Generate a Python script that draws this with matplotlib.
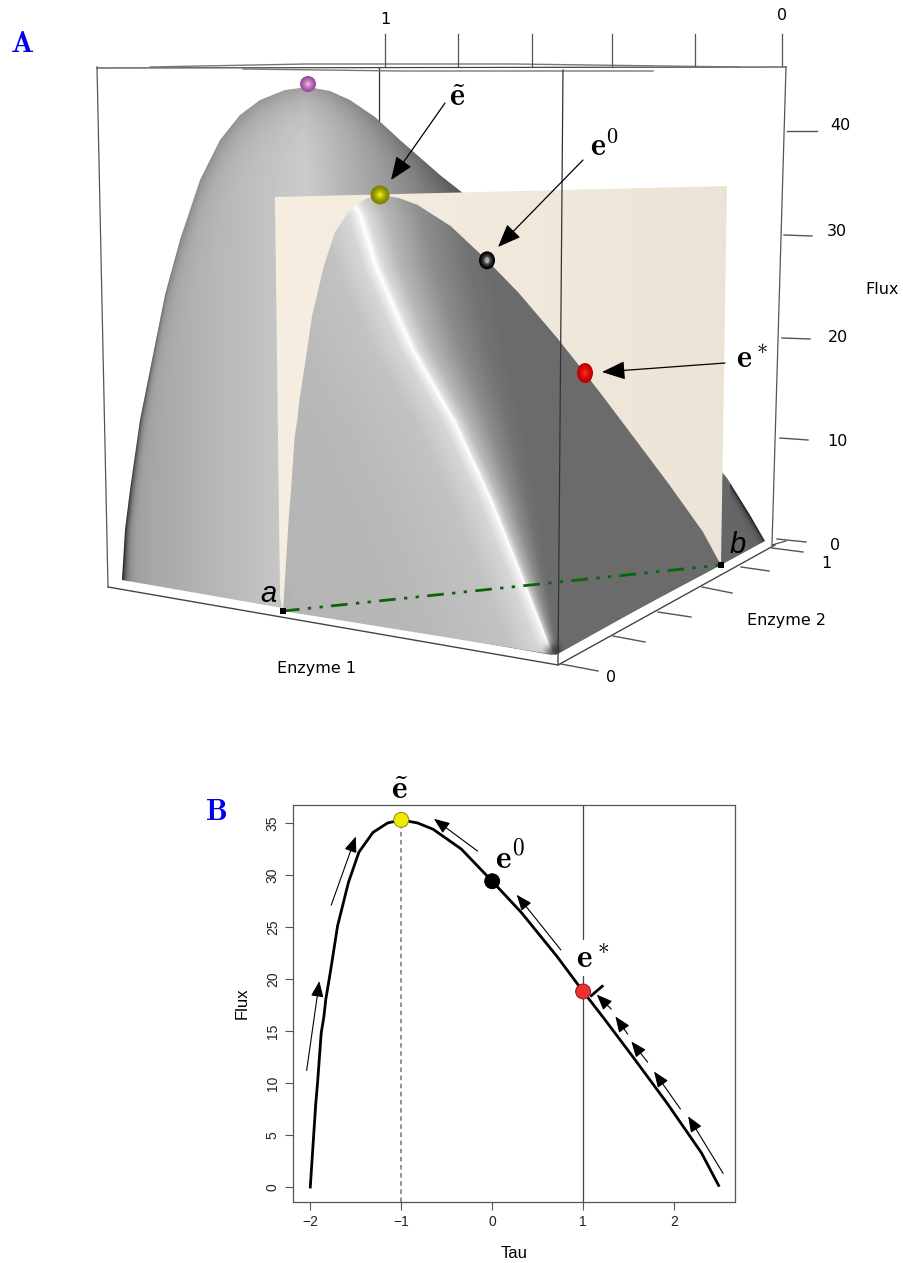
import numpy as np
import matplotlib
matplotlib.use("Agg")
import matplotlib.pyplot as plt
from matplotlib.patches import Polygon, Ellipse

plt.rcParams['mathtext.fontset'] = 'cm'
plt.rcParams['font.family'] = ['DejaVu Sans']

# ---- values -----------------------------------------------------------
tau = [-2, -1.97, -1.94, -1.92, -1.88, -1.85, -1.83, -1.775, -1.70, -1.58, -1.465, -1.31,
       -1.15, -1, -0.82, -0.65, -0.34, 0, 0.32, 0.71, 1, 1.23, 1.54, 1.92, 2.3, 2.49]
flux = [0, 4, 8, 10, 14.8, 16.4, 18, 20.9, 25.1, 29.3, 32.2, 34.1,
        35.0, 35.3, 35.0, 34.4, 32.5, 29.4, 26.4, 22.2, 18.8, 16.2, 12.6, 8.1, 3.3, 0.15]
points_tau = [-1, 0, 1]
points_flux = [35.3, 29.4, 18.8]
points_color = ['#eeea00', '#000000', '#f03030']
points_edge = ['#8a8a00', '#000000', '#8a1a1a']
arrows_b = [(-2.04, 11.2, -1.90, 19.8), (-1.77, 27.1, -1.50, 33.7), (-0.16, 32.3, -0.64, 35.4),
            (0.755, 22.8, 0.27, 28.1), (2.54, 1.3, 2.155, 6.8), (2.07, 7.5, 1.78, 11.1),
            (1.71, 12.0, 1.53, 14.0), (1.49, 14.7, 1.355, 16.4), (1.31, 17.1, 1.15, 18.5)]
bar_tau, bar_flux = [1.09, 1.21], [18.4, 19.3]

# Panel A: projected scene (image pixels)
a_px, b_px = (283, 611), (721, 565)
section_tau = [-2, -1, 0, 1, 2.5]
section_frac = [0, 0.2215, 0.4658, 0.6895, 1]
section_scale = [11.7, 11.5, 11.2, 10.97, 10.6]
back_x = [122, 125, 130, 140, 150, 165, 180, 200, 220, 240, 260, 285, 308, 330, 350, 375, 400, 440, 478,
          600, 727, 750, 765]
back_y = [580, 530, 490, 420, 370, 295, 240, 180, 140, 115, 100, 90, 87, 91, 100, 117, 140, 175, 205,
          330, 478, 515, 541]
ridge_x = [345, 360, 376, 405, 413, 455, 491, 522, 548, 556]
ridge_y = [190, 215, 267, 333, 350, 423, 500, 577, 643, 660]
curtain_x = [275, 727, 721, 283, 280]
curtain_y = [197, 186, 565, 611, 597]
top_ticks_x = [385, 458, 532, 612, 695, 782]
flux_ticks = [(787, 131, 817, 131, '40', 840, 125), (784, 235, 812, 236, '30', 837, 231),
              (782, 338, 810, 339, '20', 838, 337), (780, 438, 808, 440, '10', 837, 442),
              (777, 539, 806, 542, '0', 835, 545)]
e2_ticks = [(772, 548, 803, 552), (741, 567, 769, 571), (702, 587, 732, 593),
            (658, 612, 691, 617), (613, 636, 645, 642), (561, 664, 598, 671)]
arrows_a = [(445, 103, 391, 180), (583, 160, 498, 247), (725, 363, 602, 372)]

fig = plt.figure(figsize=(9.04, 12.63), dpi=100)
fig.patch.set_facecolor('white')
ax = fig.add_axes([0, 0, 1, 1])
ax.set_xlim(0, 904)
ax.set_ylim(1263, 0)
ax.axis('off')


def section(t, f):
    frac = np.interp(t, section_tau, section_frac)
    x = a_px[0] + (b_px[0] - a_px[0]) * frac
    y0 = a_px[1] + (b_px[1] - a_px[1]) * frac
    return x, y0 - np.interp(t, section_tau, section_scale) * np.asarray(f)


yy, xx = np.mgrid[0:700, 0:904]
xx = xx + 0.5
yy = yy + 0.5


def shaded(arr, xs, ys, z):
    poly = Polygon(np.column_stack([xs, ys]), closed=True, fc='none', ec='none', transform=ax.transData)
    ax.add_patch(poly)
    im = ax.imshow(arr, extent=(0, 904, 700, 0), cmap='gray', vmin=0, vmax=1, zorder=z,
                   interpolation='bilinear', aspect='auto')
    im.set_clip_path(poly)
    return im


# box back lines
ax.plot([379, 379], [68, 200], color='#333333', lw=0.9, zorder=1)
ax.plot([97, 108], [67, 587], color='#555555', lw=0.9, zorder=1)
ax.plot([786, 772], [67, 545], color='#555555', lw=0.9, zorder=1)
ax.plot([97, 786], [68, 67], color='#444444', lw=0.9, zorder=1)
ax.plot([150, 306, 514, 740], [67, 64, 64, 67], color='#777777', lw=1.0, zorder=1)
ax.plot([243, 400, 653], [69, 71, 71], color='#777777', lw=1.0, zorder=1)

# back surface
bx = back_x + [721, 552]
by = back_y + [565, 655]
sb = np.interp(xx, [120, 200, 305, 400, 480, 700], [0.62, 0.70, 0.80, 0.58, 0.38, 0.40])
top_y = np.interp(xx, back_x[:19], back_y[:19])
sb = sb * (1 - 0.22 * np.exp(-np.clip(yy - top_y, 0, None) / 22))
left_x = np.interp(yy, back_y[12::-1], back_x[12::-1])
sb = sb * (1 - 0.85 * np.exp(-np.clip(xx - left_x, 0, None) / (1.0 + 3.0 * np.clip(yy - 300, 0, 280) / 280)) * np.clip((yy - 200) / 380, 0, 1))
sb = np.where((xx > 730), sb * (1 - 0.7 * np.exp(-np.clip(np.interp(yy, [478, 541], [727, 765]) - xx, 0, None) / 3)), sb)
shaded(sb, bx, by, 2)

# curtain
sc = np.interp(xx, [275, 727], [0.95, 0.91])
cur_rgb = np.dstack([sc + 0.015, sc - 0.015, sc - 0.07])
poly = Polygon(np.column_stack([curtain_x, curtain_y]), closed=True, fc='none', ec='none')
ax.add_patch(poly)
im = ax.imshow(np.clip(cur_rgb, 0, 1), extent=(0, 904, 700, 0), zorder=3, aspect='auto', interpolation='bilinear')
im.set_clip_path(poly)

# front surface
sx, sy = section(np.array(tau), flux)
fx = list(sx) + [556]
fy = list(sy) + [655]
r = np.interp(yy, ridge_y, ridge_x)
u = xx - r
width = np.clip(0.62 * (563 - r), 8, None)
v = u / width
fs = np.where(u >= 0,
              np.interp(v, [0, 0.06, 0.2, 0.5, 0.8, 1.0, 9], [1.0, 0.86, 0.72, 0.55, 0.45, 0.42, 0.42]),
              np.interp(u, [-300, -120, -40, -12, -3, 0], [0.70, 0.72, 0.76, 0.84, 0.94, 1.0]))
near_tip = np.exp(-((xx - 553) ** 2 + (yy - 652) ** 2) / 60)
fs = fs * (1 - 0.6 * near_tip)
shaded(fs, fx, fy, 4)

# front vertical edge and floor
ax.plot([563, 558], [70, 665], color='#333333', lw=0.9, zorder=5)
ax.plot([108, 558, 775], [587, 665, 545], color='#444444', lw=1.0, zorder=5)
ax.plot([772, 786], [545, 541], color='#444444', lw=0.8, zorder=5)
ax.plot([a_px[0], b_px[0]], [a_px[1], b_px[1]], color='#0a640a', lw=2.0,
        ls=(0, (6, 3, 1.2, 3, 1.2, 3)), zorder=6)
for p in (a_px, b_px):
    ax.add_patch(Polygon([(p[0] - 3, p[1] - 3), (p[0] + 3, p[1] - 3), (p[0] + 3, p[1] + 3), (p[0] - 3, p[1] + 3)],
                         fc='black', ec='none', zorder=7))
ax.text(268, 594, 'a', style='italic', fontsize=21, ha='center', va='center', family='Liberation Sans', zorder=8)
ax.text(738, 545, 'b', style='italic', fontsize=21, ha='center', va='center', family='Liberation Sans', zorder=8)


def ball(x, y, rx, ry, dark, light, z=7):
    dark, light = np.array(matplotlib.colors.to_rgb(dark)), np.array(matplotlib.colors.to_rgb(light))
    for k in np.linspace(0, 1, 14):
        ax.add_patch(Ellipse((x, y - 0.1 * k), 2 * rx * (1 - k), 2 * ry * (1 - k),
                             fc=dark * (1 - k ** 1.5) + light * k ** 1.5, ec='none', zorder=z))


ball(308, 84, 8, 8, '#a04a9a', '#fbd0f5')
pxs, pys = section(np.array(points_tau), points_flux)
ball(pxs[0], pys[0], 9.5, 9.5, '#808000', '#ffff20')
ball(pxs[1], pys[1], 8, 9, '#000000', '#c8c8c8')
ball(pxs[2], pys[2], 8, 10, '#c00000', '#ff3030')
ax.add_patch(Ellipse((pxs[1], pys[1]), 4, 6, fc='#aaaaaa', ec='none', zorder=8))

for x0, y0, x1, y1 in arrows_a:
    ax.annotate('', xy=(x1, y1), xytext=(x0, y0), zorder=9,
                arrowprops=dict(arrowstyle='-|>,head_length=0.6,head_width=0.24', mutation_scale=24,
                                lw=0.9, color='black', shrinkA=0, shrinkB=0))
ax.text(457, 98, r'$\mathbf{\tilde{e}}$', fontsize=23, ha='center', va='center', zorder=9)
ax.text(604, 147, r'$\mathbf{e^0}$', fontsize=23, ha='center', va='center', zorder=9)
ax.text(752, 360, r'$\mathbf{e^*}$', fontsize=23, ha='center', va='center', zorder=9)

# box ticks
for x in top_ticks_x:
    ax.plot([x, x], [66, 34], color='#555555', lw=0.9, zorder=1)
ax.text(385, 20, '1', fontsize=11.5, ha='center', va='center')
ax.text(782, 15, '0', fontsize=11.5, ha='center', va='center')
for x0, y0, x1, y1, s, lx, ly in flux_ticks:
    ax.plot([x0, x1], [y0, y1], color='#555555', lw=1.0)
    ax.text(lx, ly, s, fontsize=11.5, ha='center', va='center')
for x0, y0, x1, y1 in e2_ticks:
    ax.plot([x0, x1], [y0, y1], color='#555555', lw=1.0)
ax.text(826, 563, '1', fontsize=11.5, ha='center', va='center')
ax.text(611, 677, '0', fontsize=11.5, ha='center', va='center')
ax.text(882, 289, 'Flux', fontsize=11.5, ha='center', va='center')
ax.text(787, 620, 'Enzyme 2', fontsize=11.5, ha='center', va='center')
ax.text(317, 669, 'Enzyme 1', fontsize=11.5, ha='center', va='center')
ax.text(22, 44, r'$\mathbf{A}$', color='#0000ee', fontsize=22, ha='center', va='center')
ax.text(216, 811, r'$\mathbf{B}$', color='#0000ee', fontsize=22, ha='center', va='center')

# ---- Panel B ----------------------------------------------------------
W, H = 904.0, 1263.0
axb = fig.add_axes([293 / W, 1 - 1202 / H, (735 - 293) / W, (1202 - 805) / H])
axb.set_facecolor('none')
axb.set_xlim(-2.19, 2.67)
axb.set_ylim(-1.44, 36.73)
for s in axb.spines.values():
    s.set_color('#555555')
    s.set_linewidth(0.9)
axb.axvline(1, color='#444444', lw=0.9, zorder=1)
axb.plot([-1, -1], [-1.44, 35.3], color='#888888', lw=1.3, ls=(0, (2.5, 2)), zorder=1)
axb.plot(tau, flux, color='black', lw=2.0, zorder=3, solid_joinstyle='round')
axb.plot(bar_tau, bar_flux, color='black', lw=2.0, zorder=3)
for x0, y0, x1, y1 in arrows_b:
    axb.annotate('', xy=(x1, y1), xytext=(x0, y0),
                 arrowprops=dict(arrowstyle='-|>,head_length=0.6,head_width=0.24', mutation_scale=16,
                                 lw=0.8, color='black', shrinkA=0, shrinkB=0))
axb.text(1.1, 22, r'$\mathbf{e^*}$', fontsize=24, ha='center', va='center', zorder=2,
         bbox=dict(fc='white', ec='none', pad=1))
axb.text(0.19, 31.6, r'$\mathbf{e^0}$', fontsize=24, ha='center', va='center', zorder=2)
axb.text(-1.02, 38.2, r'$\mathbf{\tilde{e}}$', fontsize=24, ha='center', va='center', zorder=2,
         bbox=dict(fc='white', ec='none', pad=1), clip_on=False)
axb.scatter(points_tau, points_flux, s=115, c=points_color, edgecolors=points_edge, linewidths=0.7, zorder=5)
axb.set_xticks([-2, -1, 0, 1, 2])
axb.set_yticks([0, 5, 10, 15, 20, 25, 30, 35])
axb.tick_params(length=6, width=0.8, color='#555555', labelsize=10, labelcolor='#222222')
for t in axb.get_xticklabels() + axb.get_yticklabels():
    t.set_family('Liberation Sans')
for t in axb.get_yticklabels():
    t.set_rotation(90)
    t.set_va('center')
axb.set_xlabel('Tau', fontsize=12, family='Liberation Sans', labelpad=12)
axb.set_ylabel('Flux', fontsize=12, family='Liberation Sans', labelpad=12)

fig.savefig('out.png', dpi=100)
